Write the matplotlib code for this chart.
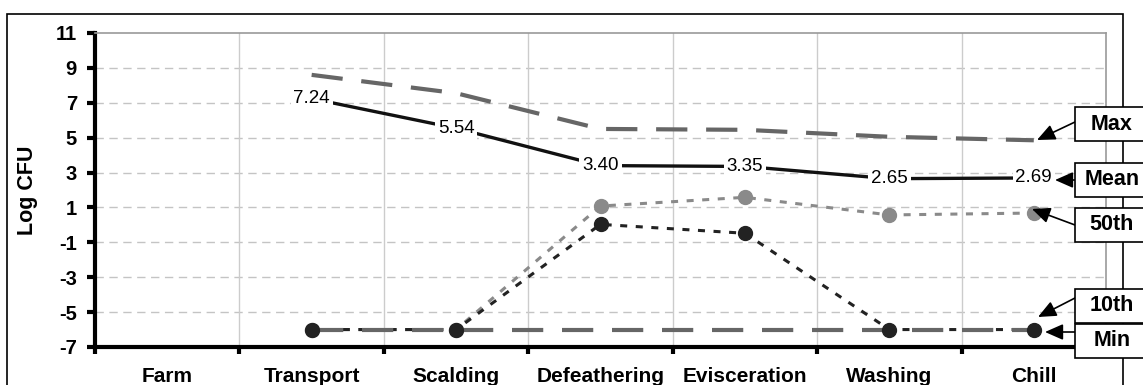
import numpy as np
import matplotlib
matplotlib.use("Agg")
import matplotlib.pyplot as plt
from matplotlib.patches import Rectangle

# ---- data ----
categories = ["Farm", "Transport", "Scalding", "Defeathering", "Evisceration", "Washing", "Chill"]
max_vals = [np.nan, 8.60, 7.55, 5.50, 5.45, 5.05, 4.85]
mean_vals = [np.nan, 7.24, 5.54, 3.40, 3.35, 2.65, 2.69]
p50_vals = [np.nan, -6.0, -6.0, 1.08, 1.58, 0.57, 0.68]
p10_vals = [np.nan, -6.0, -6.0, 0.03, -0.48, -6.0, -6.0]
min_vals = [np.nan, -6.0, -6.0, -6.0, -6.0, -6.0, -6.0]
yticks = [-7, -5, -3, -1, 1, 3, 5, 7, 9, 11]
series_names = ["Max", "Mean", "50th", "10th", "Min"]

plt.rcParams['font.family'] = ['Liberation Sans', 'DejaVu Sans']

W, H = 1143, 385
fig = plt.figure(figsize=(W / 100, H / 100), dpi=100)

def fx(px):
    return px / W

def fy(py):
    return 1 - py / H

ax_l, ax_r, ax_t, ax_b = 95, 1106, 33, 347
ax = fig.add_axes([fx(ax_l), fy(ax_b), fx(ax_r) - fx(ax_l), fy(ax_t) - fy(ax_b)])

# outer chart border
fig.patches.append(Rectangle((fx(7), fy(400)), fx(1123) - fx(7), fy(14) - fy(400),
                             transform=fig.transFigure, fill=False, edgecolor='black', lw=1.2))

x = np.arange(len(categories)) + 0.5
ax.set_xlim(0, len(categories))
ax.set_ylim(-7, 11)

# grid
for yv in yticks[1:-1]:
    ax.axhline(yv, color='#c4c4c4', lw=1, linestyle=(0, (6, 4)), zorder=0)
for xv in range(1, len(categories)):
    ax.axvline(xv, color='#cccccc', lw=1, zorder=0)

# series
ax.plot(x, max_vals, color='#666666', lw=3.0, linestyle=(0, (7.5, 4.5)), zorder=2)
ax.plot(x, mean_vals, color='#111111', lw=2.4, zorder=3)
ax.plot(x, p50_vals, color='#8a8a8a', lw=2.2, linestyle=(0, (2.3, 2.8)), zorder=3)
ax.plot(x, p10_vals, color='#222222', lw=2.2, linestyle=(0, (2.3, 2.8)), zorder=3)
ax.plot(x, min_vals, color='#666666', lw=3.0, linestyle=(0, (7.5, 4.5)), zorder=4)
ax.plot(x, p50_vals, linestyle='none', marker='o', ms=10, color='#8a8a8a', zorder=5)
ax.plot(x, p10_vals, linestyle='none', marker='o', ms=10, color='#222222', zorder=6)

# mean labels
for xi, v in zip(x, mean_vals):
    if not np.isnan(v):
        ax.text(xi, v, f"{v:.2f}", ha='center', va='center', fontsize=13.5, color='black',
                zorder=7, bbox=dict(boxstyle='square,pad=0.15', fc='white', ec='none'))

# spines
for s in ['top', 'right']:
    ax.spines[s].set_color('#999999')
    ax.spines[s].set_linewidth(1.2)
ax.spines['left'].set_linewidth(3)
ax.spines['bottom'].set_linewidth(3)

ax.set_yticks(yticks)
ax.set_yticklabels([str(t) for t in yticks], fontsize=14.5, fontweight='bold')
ax.tick_params(axis='y', direction='out', length=6, width=3, pad=7)

ax.set_xticks(range(0, len(categories) + 1))
ax.set_xticklabels([])
ax.tick_params(axis='x', which='major', direction='out', length=5, width=3)
ax.set_xticks(x, minor=True)
ax.set_xticklabels(categories, minor=True, fontsize=15, fontweight='bold')
ax.tick_params(axis='x', which='minor', length=0, pad=14.5)

fig.text(fx(27), fy(190), "Log CFU", rotation=90, ha='center', va='center',
         fontsize=15.5, fontweight='bold')

# label boxes and arrows
box_centers = [124, 179.5, 225, 305.5, 341]
box_h = 34
box_left = 1075
box_w = 74
arrow_starts = [(1075, 122), (1075, 180), (1075, 225), (1075, 298), (1075, 332)]
arrow_tips = [(1037, 140), (1055, 180), (1032, 209), (1038, 317), (1045, 332)]
for name, cy in zip(series_names, box_centers):
    fig.patches.append(Rectangle((fx(box_left), fy(cy + box_h / 2)), fx(box_w), box_h / H,
                                 transform=fig.transFigure, fc='white', ec='black', lw=1.2, zorder=10))
    fig.text(fx(box_left + box_w / 2), fy(cy), name, ha='center', va='center',
             fontsize=15.5, fontweight='bold', zorder=11)
for (sx, sy), (tx, ty) in zip(arrow_starts, arrow_tips):
    ax.annotate("", xy=(fx(tx), fy(ty)), xycoords='figure fraction',
                xytext=(fx(sx), fy(sy)), textcoords='figure fraction',
                arrowprops=dict(arrowstyle='-|>,head_length=0.5,head_width=0.22', color='black',
                                lw=1.2, mutation_scale=22, shrinkA=0, shrinkB=0),
                annotation_clip=False, zorder=9)

fig.savefig("out.png", dpi=100)
